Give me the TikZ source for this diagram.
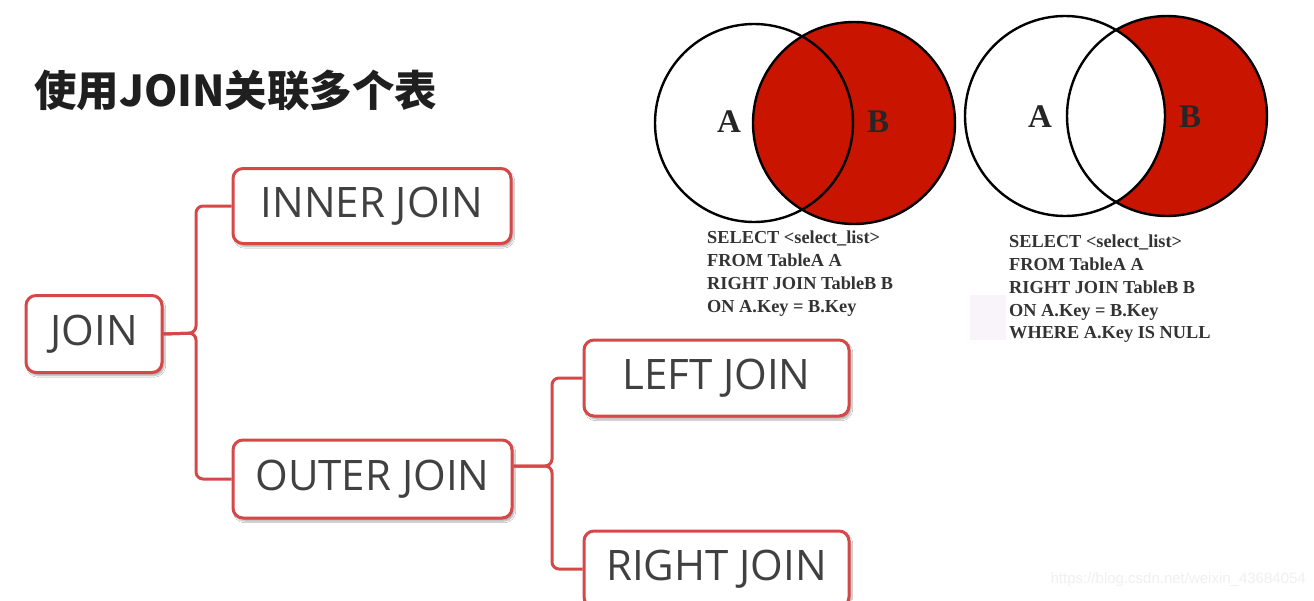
\documentclass[tikz,border=0pt]{standalone}
\usepackage{fontspec}
\usetikzlibrary{calc,shadows.blur}
\newfontfamily\cjkfont{Noto Sans CJK SC}
\newfontfamily\boxfont{Open Sans}
\newfontfamily\sqlfont{Liberation Serif}
\newfontfamily\wmfont{Liberation Sans}
\definecolor{boxred}{RGB}{214,72,72}
\definecolor{vennred}{RGB}{201,20,0}
\definecolor{boxtext}{RGB}{64,64,64}
\definecolor{lav}{RGB}{248,244,250}
\tikzset{
  mbox/.style={draw=boxred, line width=3pt, rounded corners=10pt, fill=white,
    inner sep=0pt, text=boxtext, font=\boxfont\fontsize{42}{48}\selectfont,
    blur shadow={shadow xshift=2pt, shadow yshift=-3pt, shadow blur steps=6, shadow opacity=35}},
  conn/.style={draw=boxred, line width=3pt, rounded corners=7pt},
  venn/.style={draw=black, line width=2.4pt},
  vlabel/.style={font=\sqlfont\bfseries\fontsize{33}{36}\selectfont, text=black!85, inner sep=0pt},
  sql/.style={font=\sqlfont\bfseries\fontsize{18.3}{22.7}\selectfont, text=black!80, align=left, inner sep=0pt, anchor=north west}
}
\begin{document}
\begin{tikzpicture}[x=1pt,y=-1pt]
\useasboundingbox (0,0) rectangle (1314,600);
\fill[white] (0,0) rectangle (1314,600);

% title
\node[anchor=west, inner sep=0pt, text=black!88, font=\cjkfont\bfseries\fontsize{42.5}{46}\selectfont] (title) at (34,91) {使用JOIN关联多个表};

% mind map boxes
\node[mbox, minimum width=136pt, minimum height=77pt] (join) at (94,334) {JOIN};
\node[mbox, minimum width=278pt, minimum height=75pt] (inner) at (372,206) {INNER JOIN};
\node[mbox, minimum width=279pt, minimum height=78pt] (outer) at (372.5,479) {OUTER JOIN};
\node[mbox, minimum width=265pt, minimum height=76pt] (left) at (716.5,378) {LEFT JOIN};
\node[mbox, minimum width=265pt, minimum height=76pt] (right) at (716.5,569) {RIGHT JOIN};

% connectors
\coordinate (k1) at (196,333);
\coordinate (k2) at (552,466);
\draw[conn] (join.east) -- (k1) |- (inner.west);
\draw[conn] (join.east) -- (k1) |- (outer.west);
\draw[conn] (outer.east |- k2) -- (k2) |- (left.west);
\draw[conn] (outer.east |- k2) -- (k2) |- (right.west);

% Venn 1 (RIGHT JOIN)
\fill[vennred] (854,123) circle (101);
\draw[venn] (754,123) circle (99);
\draw[venn] (854,123) circle (101);
\node[vlabel] (a1) at (729,122) {A};
\node[vlabel] (b1) at (878,122) {B};
\node[sql] (q1) at (707,231) {SELECT <select\_list>\\FROM TableA A\\RIGHT JOIN TableB B\\ON A.Key = B.Key};

% Venn 2 (RIGHT JOIN, A.Key IS NULL)
\fill[lav] (970,295) rectangle (1006,340);
\fill[vennred] (1167,116) circle (100);
\fill[white] (1065,116) circle (100);
\draw[venn] (1065,116) circle (100);
\draw[venn] (1167,116) circle (100);
\node[vlabel] (a2) at (1040,117) {A};
\node[vlabel] (b2) at (1190,117) {B};
\node[sql] (q2) at (1009,235) {SELECT <select\_list>\\FROM TableA A\\RIGHT JOIN TableB B\\ON A.Key = B.Key\\WHERE A.Key IS NULL};

% watermark
\node[anchor=east, inner sep=0pt, text=black!6, font=\wmfont\fontsize{15}{18}\selectfont] (wm) at (1306,580) {https://blog.csdn.net/weixin\_43684054};
\end{tikzpicture}
\end{document}
